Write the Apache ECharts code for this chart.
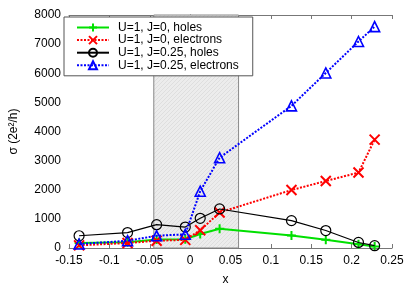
<!DOCTYPE html>
<html>
<head>
<meta charset="utf-8">
<script src="https://cdn.jsdelivr.net/npm/echarts@6/dist/echarts.min.js"></script>
<style>
html,body{margin:0;padding:0;background:#fff;}
#c{width:415px;height:291px;}
</style>
</head>
<body>
<div id="c"></div>
<script>
var xValues = [-0.1375, -0.0775, -0.0415, -0.006, 0.0125, 0.0365, 0.1255, 0.168, 0.2085, 0.2285];
var holesJ0 = [170, 200, 290, 300, 480, 660, 430, 280, 130, 50];
var electronsJ0 = [90, 170, 250, 280, 610, 1220, 1990, 2300, 2590, 3720];
var holesJ025 = [420, 530, 800, 720, 1020, 1340, 940, 600, 190, 80];
var electronsJ025 = [135, 250, 420, 470, 1950, 3100, 4880, 6010, 7090, 7600];
var seriesNames = ['U=1, J=0, holes', 'U=1, J=0, electrons', 'U=1, J=0.25, holes', 'U=1, J=0.25, electrons'];
var shadedRange = [-0.045, 0.06];
var xTicks = [-0.15, 0.25, 0.05];
var yTicks = [0, 8000, 1000];

function pairs(ys){ return xValues.map(function(x,i){ return [x, ys[i]]; }); }

var pc = document.createElement('canvas');
pc.width = 4; pc.height = 4;
var g = pc.getContext('2d');
g.fillStyle = '#ececec'; g.fillRect(0,0,4,4);
g.strokeStyle = '#dedede'; g.lineWidth = 1;
g.beginPath(); g.moveTo(0,4); g.lineTo(4,0); g.stroke();

var font = 'Liberation Sans, Arial, sans-serif';
var axisColor = '#777';

var chart = echarts.init(document.getElementById('c'), null, {renderer:'canvas'});
chart.setOption({
  animation: false,
  backgroundColor: '#fff',
  grid: {left: 62, right: 23, top: 15, bottom: 41, containLabel: false},
  legend: {
    orient: 'vertical', left: 64, top: 17,
    padding: [4, 14, 4, 12],
    itemWidth: 32, itemHeight: 10, itemGap: -0.4,
    backgroundColor: '#fff', borderColor: '#555', borderWidth: 1,
    textStyle: {fontFamily: font, fontSize: 12, lineHeight: 12, color: '#000', padding: [0,0,0,4]},
    data: seriesNames
  },
  xAxis: [{
    type: 'value', min: xTicks[0], max: xTicks[1], interval: xTicks[2],
    name: 'x', nameLocation: 'middle', nameGap: 26,
    nameTextStyle: {fontFamily: font, fontSize: 12, color: '#000', padding: [0, 10, 0, 0]},
    axisLine: {show: true, onZero: false, lineStyle: {color: axisColor}},
    axisTick: {show: true, inside: true, length: 4, lineStyle: {color: axisColor}},
    axisLabel: {fontFamily: font, fontSize: 12, color: '#000', margin: 7,
      formatter: function(v){ return String(+v.toFixed(2)); }},
    splitLine: {show: false}
  }, {
    type: 'value', position: 'top', min: xTicks[0], max: xTicks[1], interval: xTicks[2],
    axisLine: {show: true, onZero: false, lineStyle: {color: axisColor}},
    axisTick: {show: true, inside: true, length: 4, lineStyle: {color: axisColor}},
    axisLabel: {show: false}, splitLine: {show: false}
  }],
  yAxis: [{
    type: 'value', min: yTicks[0], max: yTicks[1], interval: yTicks[2],
    name: 'σ (2e²/h)', nameLocation: 'middle', nameGap: 49, nameRotate: 90,
    nameTextStyle: {fontFamily: font, fontSize: 12, color: '#000'},
    axisLine: {show: true, lineStyle: {color: axisColor}},
    axisTick: {show: true, inside: true, length: 4, lineStyle: {color: axisColor}},
    axisLabel: {fontFamily: font, fontSize: 12, color: '#000', margin: 8,
      formatter: function(v){ return String(v); }},
    splitLine: {show: false}
  }, {
    type: 'value', position: 'right', min: yTicks[0], max: yTicks[1], interval: yTicks[2],
    axisLine: {show: true, lineStyle: {color: axisColor}},
    axisTick: {show: true, inside: true, length: 4, lineStyle: {color: axisColor}},
    axisLabel: {show: false}, splitLine: {show: false}
  }],
  series: [{
    name: seriesNames[0], type: 'line', data: pairs(holesJ0),
    symbol: 'path://M0,5L10,5M5,0L5,10', symbolSize: 9,
    lineStyle: {color: '#00e000', width: 2, type: 'solid'},
    itemStyle: {color: 'none', borderColor: '#00e000', borderWidth: 2},
    markArea: {
      silent: true,
      itemStyle: {color: {image: pc, repeat: 'repeat'}, borderColor: '#888', borderWidth: 1},
      data: [[{xAxis: shadedRange[0]}, {xAxis: shadedRange[1]}]]
    },
    z: 2
  }, {
    name: seriesNames[1], type: 'line', data: pairs(electronsJ0),
    symbol: 'path://M0,0L10,10M10,0L0,10', symbolSize: 10,
    lineStyle: {color: '#ff0000', width: 2, type: [2, 1.5]},
    itemStyle: {color: 'none', borderColor: '#ff0000', borderWidth: 2},
    z: 3
  }, {
    name: seriesNames[2], type: 'line', data: pairs(holesJ025),
    symbol: 'circle', symbolSize: 10,
    lineStyle: {color: '#000', width: 1.2, type: 'solid'},
    itemStyle: {color: 'none', borderColor: '#000', borderWidth: 1.2},
    z: 4
  }, {
    name: seriesNames[3], type: 'line', data: pairs(electronsJ025),
    symbol: 'path://M5,0L10,9L0,9Z', symbolSize: 10,
    lineStyle: {color: '#0000ff', width: 2, type: [2, 1.5]},
    itemStyle: {color: 'none', borderColor: '#0000ff', borderWidth: 1.6},
    z: 5
  }]
});
</script>
</body>
</html>
